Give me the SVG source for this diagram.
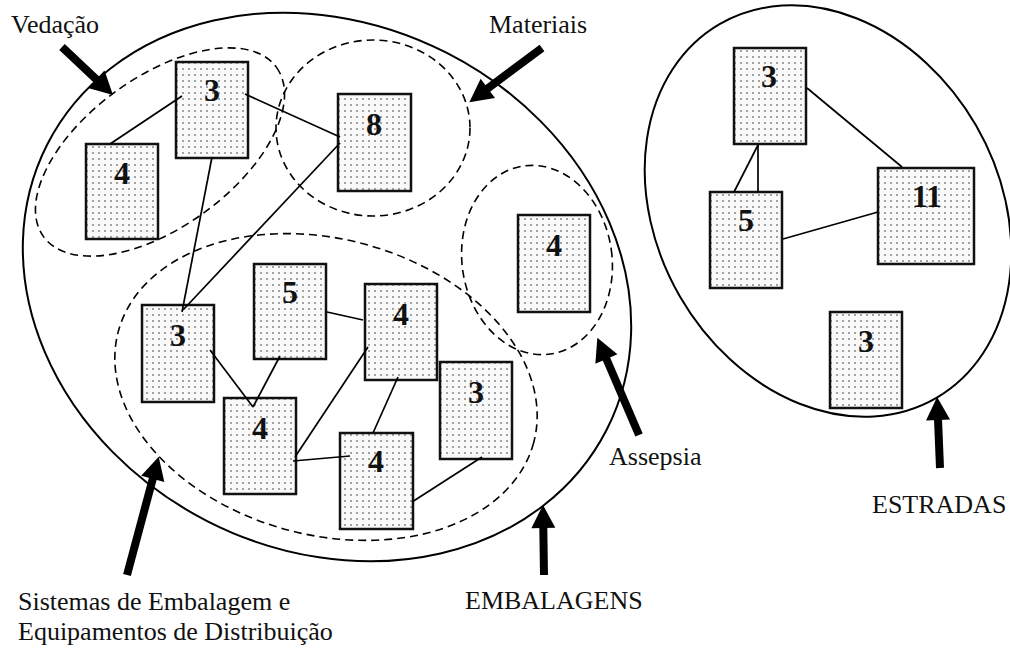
<svg xmlns="http://www.w3.org/2000/svg" width="1010" height="648" viewBox="0 0 1010 648">
  <defs>
    <pattern id="dots" width="6" height="6" patternUnits="userSpaceOnUse">
      <rect width="6" height="6" fill="#f9f9f9"/>
      <rect x="2.3" y="2.3" width="1.4" height="1.4" fill="#4a4a4a"/>
    </pattern>
    <marker id="head" markerUnits="userSpaceOnUse" markerWidth="24" markerHeight="24" refX="1" refY="12" orient="auto" overflow="visible">
      <path d="M0,0 L23,12 L0,24 z" fill="#000"/>
    </marker>
    <style>
      .group { fill: none; stroke: #000; stroke-width: 2; }
      .sub { fill: none; stroke: #000; stroke-width: 1.6; stroke-dasharray: 8 5; }
      .box { fill: url(#dots); stroke: #111; stroke-width: 2.5; }
      .num { font-family: "Liberation Serif", "Times New Roman", serif; font-weight: bold; font-size: 32px; text-anchor: middle; fill: #111; }
      .lbl { font-family: "Liberation Serif", "Times New Roman", serif; font-size: 26px; fill: #111; }
      .link { stroke: #000; stroke-width: 1.7; fill: none; }
      .arrow { stroke: #000; stroke-width: 8; fill: none; marker-end: url(#head); }
    </style>
  </defs>

  <!-- outer groupings -->
  <g id="groups">
    <ellipse class="group" cx="327" cy="287" rx="314" ry="263" transform="rotate(27 327 287)"/>
    <ellipse class="group" cx="828" cy="211" rx="216" ry="171" transform="rotate(60 828 211)"/>
    <ellipse class="sub" cx="160" cy="152" rx="144" ry="75" transform="rotate(-36 160 152)"/>
    <ellipse class="sub" cx="373" cy="128" rx="97" ry="88"/>
    <ellipse class="sub" cx="537" cy="260" rx="75" ry="95" transform="rotate(-8 537 260)"/>
    <ellipse class="sub" cx="326" cy="387" rx="215" ry="148" transform="rotate(15 326 387)"/>
  </g>

  <!-- EMBALAGENS nodes -->
  <g id="n-ved-4"><rect class="box" x="86" y="144" width="72" height="95"/><text class="num" x="122" y="184">4</text></g>
  <g id="n-ved-3"><rect class="box" x="176" y="62" width="72" height="96"/><text class="num" x="212" y="101">3</text></g>
  <g id="n-mat-8"><rect class="box" x="338" y="94" width="73" height="97"/><text class="num" x="374" y="135">8</text></g>
  <g id="n-ase-4"><rect class="box" x="518" y="215" width="72" height="97"/><text class="num" x="554" y="256">4</text></g>
  <g id="n-sis-3a"><rect class="box" x="142" y="305" width="72" height="97"/><text class="num" x="178" y="346">3</text></g>
  <g id="n-sis-5"><rect class="box" x="254" y="264" width="72" height="95"/><text class="num" x="290" y="303">5</text></g>
  <g id="n-sis-4a"><rect class="box" x="365" y="284" width="72" height="96"/><text class="num" x="401" y="325">4</text></g>
  <g id="n-sis-3b"><rect class="box" x="440" y="362" width="72" height="97"/><text class="num" x="476" y="403">3</text></g>
  <g id="n-sis-4b"><rect class="box" x="224" y="398" width="72" height="96"/><text class="num" x="260" y="439">4</text></g>
  <g id="n-sis-4c"><rect class="box" x="340" y="433" width="73" height="96"/><text class="num" x="376" y="472">4</text></g>

  <!-- ESTRADAS nodes -->
  <g id="n-est-3a"><rect class="box" x="734" y="48" width="72" height="96"/><text class="num" x="769" y="87">3</text></g>
  <g id="n-est-5"><rect class="box" x="710" y="192" width="72" height="96"/><text class="num" x="746" y="231">5</text></g>
  <g id="n-est-11"><rect class="box" x="878" y="168" width="96" height="96"/><text class="num" x="927" y="207">11</text></g>
  <g id="n-est-3b"><rect class="box" x="830" y="312" width="72" height="96"/><text class="num" x="866" y="352">3</text></g>

  <!-- links between nodes -->
  <g id="connectors">
    <line class="link" x1="110" y1="144" x2="182" y2="96"/>
    <line class="link" x1="245" y1="94" x2="340" y2="137"/>
    <line class="link" x1="212" y1="157" x2="182" y2="312"/>
    <line class="link" x1="340" y1="143" x2="183" y2="310"/>
    <line class="link" x1="210" y1="350" x2="253" y2="407"/>
    <line class="link" x1="280" y1="356" x2="253" y2="407"/>
    <line class="link" x1="327" y1="312" x2="363" y2="320"/>
    <line class="link" x1="368" y1="347" x2="295" y2="457"/>
    <line class="link" x1="293" y1="461" x2="350" y2="456"/>
    <line class="link" x1="398" y1="377" x2="373" y2="433"/>
    <line class="link" x1="482" y1="457" x2="412" y2="502"/>
    <line class="link" x1="807" y1="88" x2="902" y2="167"/>
    <line class="link" x1="758" y1="145" x2="734" y2="192"/>
    <line class="link" x1="758" y1="145" x2="758" y2="192"/>
    <line class="link" x1="783" y1="239" x2="878" y2="212"/>
  </g>

  <!-- callout arrows -->
  <g id="callouts">
    <line class="arrow" x1="62" y1="47" x2="97" y2="80"/>
    <line class="arrow" x1="542" y1="48" x2="487" y2="89"/>
    <line class="arrow" x1="127" y1="575" x2="153" y2="478"/>
    <line class="arrow" x1="544" y1="575" x2="543.3" y2="527"/>
    <line class="arrow" x1="639" y1="435" x2="606" y2="358"/>
    <line class="arrow" x1="940" y1="468" x2="938" y2="419"/>
  </g>

  <!-- captions -->
  <g id="captions">
    <text class="lbl" x="11" y="33">Vedação</text>
    <text class="lbl" x="489" y="33">Materiais</text>
    <text class="lbl" x="609" y="465">Assepsia</text>
    <text class="lbl" x="872" y="513">ESTRADAS</text>
    <text class="lbl" x="465" y="609">EMBALAGENS</text>
    <text class="lbl" x="18" y="610">Sistemas de Embalagem e</text>
    <text class="lbl" x="18" y="640">Equipamentos de Distribuição</text>
  </g>
</svg>
